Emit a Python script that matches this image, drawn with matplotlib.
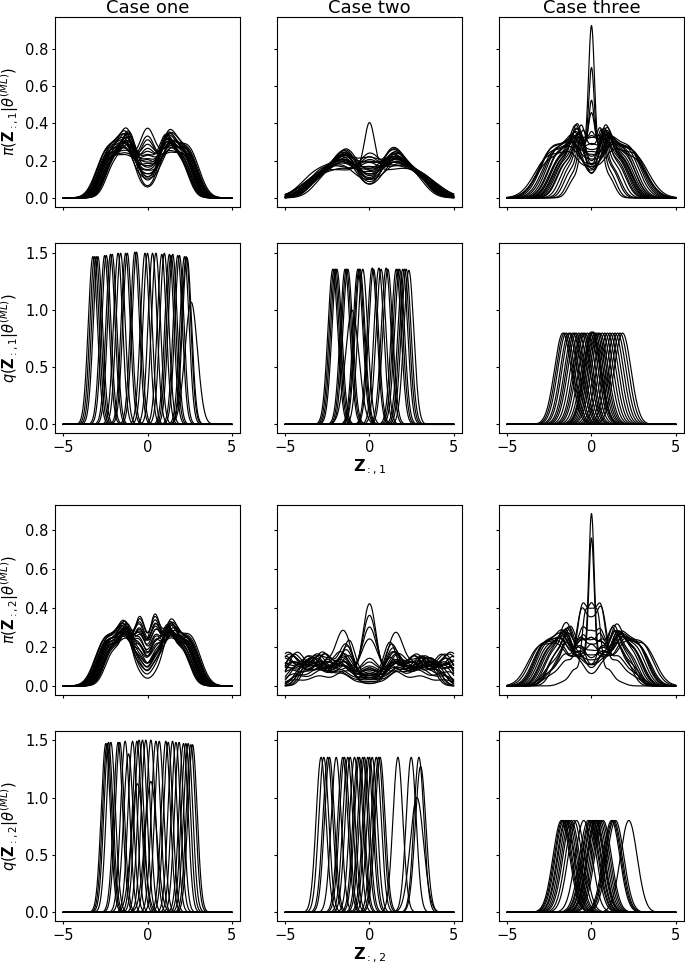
import numpy as np
import matplotlib.pyplot as plt

plt.rcParams['font.size'] = 10.5
plt.rcParams['xtick.major.size'] = 2.2
plt.rcParams['ytick.major.size'] = 2.2
plt.rcParams['xtick.major.pad'] = 2.5
plt.rcParams['ytick.major.pad'] = 2.5

x = np.linspace(-5, 5, 800)
cases = ['Case one', 'Case two', 'Case three']

# ---------------------------------------------------------------
# pi(Z | theta^(ML)) curves
# each panel: bump positions, bump widths, and one row per curve:
# [horizontal stretch, amplitude of each bump ...]
# ---------------------------------------------------------------
pi1_one_means = [-2.25, -1.2, 0.0, 1.2, 2.25]
pi1_one_sds = [0.55, 0.5, 0.5, 0.5, 0.55]
pi1_one_rows = [
    [1.00, 0.22, 0.30, 0.08, 0.30, 0.22],
    [0.95, 0.20, 0.28, 0.18, 0.27, 0.21],
    [1.05, 0.23, 0.25, 0.03, 0.26, 0.23],
    [0.90, 0.18, 0.32, 0.13, 0.30, 0.19],
    [1.00, 0.21, 0.20, 0.35, 0.22, 0.20],
    [1.08, 0.24, 0.27, 0.10, 0.25, 0.24],
    [0.92, 0.19, 0.24, 0.26, 0.25, 0.20],
    [0.98, 0.22, 0.33, 0.06, 0.31, 0.21],
    [1.03, 0.21, 0.22, 0.16, 0.23, 0.22],
    [0.88, 0.17, 0.29, 0.20, 0.30, 0.18],
    [1.10, 0.23, 0.26, 0.12, 0.24, 0.25],
    [0.96, 0.20, 0.18, 0.29, 0.20, 0.21],
    [1.02, 0.24, 0.31, 0.03, 0.32, 0.23],
    [0.94, 0.19, 0.26, 0.22, 0.27, 0.19],
    [1.06, 0.22, 0.23, 0.08, 0.22, 0.23],
    [0.90, 0.20, 0.30, 0.16, 0.28, 0.18],
    [1.00, 0.23, 0.21, 0.24, 0.24, 0.22],
    [0.97, 0.21, 0.28, 0.12, 0.29, 0.22],
    [1.04, 0.22, 0.24, 0.18, 0.21, 0.24],
    [0.93, 0.18, 0.27, 0.10, 0.26, 0.20],
    [1.07, 0.24, 0.29, 0.14, 0.30, 0.23],
    [0.99, 0.20, 0.19, 0.31, 0.19, 0.21],
    [0.91, 0.19, 0.31, 0.08, 0.29, 0.18],
    [1.01, 0.22, 0.25, 0.20, 0.26, 0.21],
]

pi1_two_means = [-2.8, -1.4, 0.0, 1.4, 2.8, 0.0]
pi1_two_sds = [0.9, 0.7, 0.65, 0.7, 0.9, 0.3]
pi1_two_rows = [
    [1.00, 0.12, 0.19, 0.05, 0.18, 0.12, 0.00],
    [0.95, 0.14, 0.15, 0.11, 0.16, 0.13, 0.00],
    [1.05, 0.10, 0.21, 0.03, 0.20, 0.11, 0.00],
    [0.90, 0.15, 0.12, 0.17, 0.13, 0.14, 0.00],
    [1.00, 0.11, 0.15, 0.10, 0.16, 0.12, 0.26],
    [1.10, 0.11, 0.18, 0.08, 0.17, 0.10, 0.00],
    [0.92, 0.13, 0.21, 0.04, 0.22, 0.14, 0.00],
    [0.98, 0.15, 0.10, 0.19, 0.11, 0.14, 0.00],
    [1.04, 0.09, 0.22, 0.06, 0.21, 0.10, 0.00],
    [0.88, 0.16, 0.14, 0.13, 0.13, 0.15, 0.00],
    [1.12, 0.10, 0.16, 0.12, 0.17, 0.11, 0.00],
    [0.96, 0.12, 0.19, 0.02, 0.20, 0.13, 0.00],
    [1.02, 0.13, 0.09, 0.21, 0.12, 0.12, 0.00],
    [0.94, 0.11, 0.22, 0.09, 0.19, 0.12, 0.00],
    [1.07, 0.12, 0.13, 0.06, 0.14, 0.11, 0.00],
    [0.90, 0.14, 0.17, 0.15, 0.16, 0.15, 0.00],
    [1.00, 0.10, 0.20, 0.10, 0.22, 0.11, 0.00],
    [0.97, 0.13, 0.16, 0.03, 0.15, 0.12, 0.00],
    [1.05, 0.11, 0.11, 0.16, 0.10, 0.13, 0.00],
    [0.93, 0.12, 0.20, 0.07, 0.21, 0.13, 0.00],
    [1.08, 0.14, 0.14, 0.10, 0.15, 0.12, 0.00],
    [0.99, 0.11, 0.18, 0.17, 0.17, 0.11, 0.00],
    [0.86, 0.13, 0.17, 0.06, 0.18, 0.14, 0.00],
    [1.14, 0.09, 0.19, 0.14, 0.18, 0.10, 0.00],
]

pi1_three_means = [-1.9, -0.9, 0.0, 0.9, 1.9, 0.0]
pi1_three_sds = [0.65, 0.42, 0.42, 0.42, 0.65, 0.2]
pi1_three_rows = [
    [1.00, 0.24, 0.26, 0.12, 0.25, 0.25, 0.00],
    [0.90, 0.20, 0.30, 0.10, 0.28, 0.20, 0.76],
    [0.85, 0.19, 0.27, 0.15, 0.26, 0.20, 0.49],
    [0.80, 0.18, 0.28, 0.18, 0.30, 0.18, 0.28],
    [0.95, 0.21, 0.25, 0.20, 0.26, 0.20, 0.20],
    [1.10, 0.25, 0.20, 0.10, 0.22, 0.26, 0.00],
    [1.25, 0.24, 0.18, 0.14, 0.19, 0.25, 0.00],
    [0.68, 0.16, 0.32, 0.22, 0.30, 0.15, 0.00],
    [1.05, 0.26, 0.23, 0.08, 0.24, 0.25, 0.00],
    [0.92, 0.20, 0.29, 0.16, 0.28, 0.21, 0.00],
    [1.18, 0.27, 0.19, 0.12, 0.20, 0.26, 0.00],
    [0.58, 0.12, 0.30, 0.26, 0.31, 0.13, 0.00],
    [0.98, 0.21, 0.27, 0.20, 0.26, 0.22, 0.00],
    [1.32, 0.22, 0.16, 0.13, 0.17, 0.23, 0.00],
    [0.88, 0.19, 0.33, 0.06, 0.32, 0.20, 0.00],
    [1.02, 0.24, 0.22, 0.24, 0.23, 0.23, 0.00],
    [0.74, 0.17, 0.29, 0.12, 0.28, 0.17, 0.00],
    [1.14, 0.25, 0.24, 0.18, 0.22, 0.27, 0.00],
    [0.54, 0.10, 0.26, 0.30, 0.27, 0.11, 0.00],
    [0.95, 0.22, 0.31, 0.09, 0.30, 0.21, 0.00],
    [1.22, 0.26, 0.21, 0.16, 0.20, 0.25, 0.00],
    [0.82, 0.18, 0.24, 0.28, 0.25, 0.19, 0.00],
    [1.28, 0.20, 0.22, 0.20, 0.21, 0.21, 0.00],
    [0.64, 0.14, 0.28, 0.14, 0.27, 0.15, 0.00],
]

pi2_one_means = [-2.3, -1.3, -0.45, 0.45, 1.3, 2.3]
pi2_one_sds = [0.55, 0.42, 0.35, 0.35, 0.42, 0.55]
pi2_one_rows = [
    [1.00, 0.22, 0.26, 0.10, 0.12, 0.27, 0.22],
    [0.95, 0.20, 0.22, 0.25, 0.28, 0.23, 0.21],
    [1.05, 0.23, 0.27, 0.04, 0.04, 0.26, 0.23],
    [0.90, 0.18, 0.24, 0.30, 0.31, 0.25, 0.19],
    [1.00, 0.21, 0.20, 0.18, 0.20, 0.21, 0.20],
    [1.08, 0.24, 0.25, 0.08, 0.10, 0.24, 0.24],
    [0.92, 0.19, 0.23, 0.22, 0.33, 0.22, 0.20],
    [0.98, 0.22, 0.28, 0.14, 0.12, 0.28, 0.21],
    [1.03, 0.21, 0.21, 0.28, 0.25, 0.22, 0.22],
    [0.88, 0.17, 0.26, 0.16, 0.18, 0.27, 0.18],
    [1.10, 0.23, 0.24, 0.12, 0.14, 0.22, 0.25],
    [0.96, 0.20, 0.19, 0.32, 0.30, 0.20, 0.21],
    [1.02, 0.24, 0.28, 0.06, 0.07, 0.29, 0.23],
    [0.94, 0.19, 0.23, 0.24, 0.22, 0.24, 0.19],
    [1.06, 0.22, 0.22, 0.15, 0.18, 0.21, 0.23],
    [0.90, 0.20, 0.27, 0.20, 0.19, 0.26, 0.18],
    [1.00, 0.23, 0.20, 0.26, 0.28, 0.21, 0.22],
    [0.97, 0.21, 0.25, 0.10, 0.11, 0.26, 0.22],
    [1.04, 0.22, 0.23, 0.20, 0.22, 0.20, 0.24],
    [0.93, 0.18, 0.26, 0.12, 0.14, 0.25, 0.20],
    [1.07, 0.24, 0.26, 0.18, 0.16, 0.27, 0.23],
    [0.99, 0.20, 0.21, 0.29, 0.27, 0.19, 0.21],
    [0.91, 0.19, 0.25, 0.08, 0.09, 0.24, 0.18],
    [1.01, 0.22, 0.24, 0.23, 0.25, 0.23, 0.21],
]

pi2_two_means = [-4.5, -3.0, -1.55, 0.0, 1.55, 3.0, 4.5, 0.0]
pi2_two_sds = [0.55, 0.55, 0.5, 0.55, 0.5, 0.55, 0.55, 0.4]
pi2_two_rows = [
    [1.00, 0.16, 0.12, 0.10, 0.05, 0.11, 0.12, 0.16, 0.00],
    [0.88, 0.10, 0.16, 0.18, 0.04, 0.17, 0.15, 0.11, 0.00],
    [1.12, 0.15, 0.10, 0.08, 0.06, 0.09, 0.10, 0.15, 0.00],
    [0.95, 0.05, 0.08, 0.10, 0.10, 0.09, 0.08, 0.06, 0.32],
    [1.00, 0.06, 0.09, 0.12, 0.10, 0.12, 0.09, 0.05, 0.26],
    [1.05, 0.08, 0.10, 0.14, 0.12, 0.13, 0.10, 0.07, 0.18],
    [1.00, 0.12, 0.15, 0.28, 0.03, 0.27, 0.14, 0.12, 0.00],
    [1.00, 0.03, 0.05, 0.07, 0.24, 0.07, 0.05, 0.03, 0.00],
    [0.82, 0.15, 0.13, 0.09, 0.02, 0.10, 0.12, 0.14, 0.00],
    [1.08, 0.17, 0.11, 0.13, 0.07, 0.12, 0.12, 0.17, 0.00],
    [0.93, 0.11, 0.17, 0.12, 0.03, 0.13, 0.16, 0.10, 0.00],
    [1.18, 0.12, 0.15, 0.11, 0.08, 0.10, 0.14, 0.13, 0.00],
    [0.85, 0.09, 0.12, 0.20, 0.06, 0.21, 0.12, 0.09, 0.00],
    [1.02, 0.15, 0.08, 0.15, 0.09, 0.16, 0.09, 0.14, 0.00],
    [0.90, 0.07, 0.16, 0.21, 0.05, 0.19, 0.15, 0.08, 0.00],
    [1.14, 0.14, 0.14, 0.07, 0.04, 0.08, 0.14, 0.13, 0.00],
    [0.97, 0.10, 0.11, 0.16, 0.12, 0.17, 0.11, 0.11, 0.00],
    [1.06, 0.16, 0.15, 0.06, 0.02, 0.07, 0.14, 0.16, 0.00],
    [0.78, 0.12, 0.10, 0.23, 0.08, 0.22, 0.10, 0.11, 0.00],
    [1.03, 0.12, 0.16, 0.10, 0.14, 0.11, 0.15, 0.11, 0.00],
    [0.96, 0.17, 0.12, 0.12, 0.01, 0.12, 0.11, 0.16, 0.00],
    [1.10, 0.09, 0.14, 0.17, 0.06, 0.16, 0.15, 0.09, 0.00],
    [0.80, 0.13, 0.14, 0.15, 0.09, 0.14, 0.13, 0.12, 0.00],
    [1.20, 0.11, 0.12, 0.12, 0.10, 0.13, 0.12, 0.12, 0.00],
]

pi2_three_means = [-2.5, -1.5, -0.6, 0.0, 0.6, 1.5, 2.5, 0.0]
pi2_three_sds = [0.55, 0.45, 0.3, 0.3, 0.3, 0.45, 0.55, 0.17]
pi2_three_rows = [
    [1.00, 0.18, 0.24, 0.12, 0.06, 0.12, 0.24, 0.18, 0.00],
    [0.95, 0.10, 0.20, 0.12, 0.12, 0.12, 0.20, 0.10, 0.73],
    [0.90, 0.08, 0.22, 0.10, 0.14, 0.10, 0.22, 0.09, 0.59],
    [0.95, 0.05, 0.12, 0.36, 0.30, 0.36, 0.12, 0.05, 0.00],
    [1.00, 0.06, 0.15, 0.34, 0.26, 0.35, 0.14, 0.06, 0.00],
    [1.10, 0.21, 0.22, 0.10, 0.08, 0.10, 0.22, 0.20, 0.00],
    [1.20, 0.20, 0.18, 0.12, 0.10, 0.12, 0.19, 0.21, 0.00],
    [0.85, 0.15, 0.27, 0.14, 0.07, 0.15, 0.28, 0.14, 0.00],
    [1.05, 0.19, 0.21, 0.20, 0.16, 0.19, 0.22, 0.19, 0.00],
    [0.92, 0.16, 0.26, 0.18, 0.20, 0.17, 0.25, 0.15, 0.00],
    [1.15, 0.20, 0.20, 0.16, 0.14, 0.15, 0.21, 0.19, 0.00],
    [0.80, 0.12, 0.28, 0.20, 0.18, 0.21, 0.27, 0.13, 0.00],
    [0.98, 0.17, 0.25, 0.08, 0.04, 0.08, 0.24, 0.18, 0.00],
    [1.25, 0.19, 0.17, 0.14, 0.12, 0.14, 0.18, 0.20, 0.00],
    [0.88, 0.14, 0.24, 0.24, 0.22, 0.23, 0.25, 0.15, 0.00],
    [1.02, 0.18, 0.23, 0.16, 0.10, 0.16, 0.23, 0.17, 0.00],
    [0.65, 0.02, 0.08, 0.32, 0.34, 0.32, 0.08, 0.02, 0.00],
    [1.08, 0.20, 0.24, 0.12, 0.18, 0.12, 0.23, 0.21, 0.00],
    [0.95, 0.16, 0.29, 0.10, 0.08, 0.11, 0.28, 0.17, 0.00],
    [1.12, 0.21, 0.19, 0.18, 0.20, 0.17, 0.20, 0.20, 0.00],
]

# ---------------------------------------------------------------
# q(Z | theta^(ML)) curves: (centre, peak height) of each bump
# ---------------------------------------------------------------
q1_one = [(-3.25, 1.47), (-3.15, 1.47), (-3.05, 1.47), (-2.95, 1.47),
          (-2.55, 1.48), (-2.45, 1.48), (-2.2, 1.49), (-2.1, 1.49),
          (-1.75, 1.5), (-1.6, 1.5), (-1.3, 1.5), (-1.2, 1.5),
          (-0.75, 1.51), (-0.65, 1.51), (-0.15, 1.5), (0.0, 1.5),
          (0.3, 1.5), (0.5, 1.5), (0.85, 1.49), (1.0, 1.5),
          (1.3, 1.49), (1.4, 1.48), (1.5, 1.49), (1.8, 1.48),
          (1.9, 1.48), (2.2, 1.47), (2.3, 1.47), (2.35, 1.46), (2.6, 1.07)]

q1_two = [(-2.18, 1.36), (-2.1, 1.36), (-2.02, 1.36), (-1.94, 1.36),
          (-1.45, 1.36), (-1.37, 1.36), (-1.29, 1.36), (-1.03, 1.0),
          (-0.69, 1.36), (-0.62, 1.36), (-0.56, 1.36), (-0.40, 1.36),
          (0.16, 1.37), (0.24, 1.36), (0.56, 1.37), (0.69, 1.36),
          (0.99, 1.37), (1.09, 1.36), (1.59, 1.36), (1.69, 1.36),
          (1.79, 1.36), (1.98, 1.36), (2.08, 1.36), (2.18, 1.36), (2.34, 1.35)]

q1_three = [(-1.7, 0.8), (-1.6, 0.8), (-1.5, 0.8), (-1.35, 0.8), (-1.25, 0.8),
            (-1.1, 0.8), (-1.0, 0.8), (-0.9, 0.8), (-0.75, 0.8), (-0.6, 0.8),
            (-0.5, 0.8), (-0.4, 0.8), (-0.25, 0.8), (-0.1, 0.8), (0.0, 0.81),
            (0.05, 0.8), (0.1, 0.81), (0.2, 0.8), (0.3, 0.8), (0.4, 0.8),
            (0.5, 0.8), (0.65, 0.8), (0.8, 0.8), (0.95, 0.8), (1.1, 0.8),
            (1.25, 0.8), (1.4, 0.8), (1.55, 0.8), (1.7, 0.8), (1.85, 0.8)]

q2_one = [(-2.48, 1.47), (-2.4, 1.47), (-2.32, 1.48), (-2.18, 1.48),
          (-1.75, 1.48), (-1.65, 1.48), (-1.33, 1.49), (-1.13, 1.38),
          (-0.89, 1.49), (-0.63, 1.49), (-0.6, 1.12), (-0.5, 1.5),
          (-0.3, 1.5), (-0.1, 1.5), (0.2, 1.14), (0.2, 1.5), (0.5, 1.49),
          (0.7, 1.49), (1.09, 1.49), (1.23, 1.48), (1.49, 1.49), (1.69, 1.48),
          (1.88, 1.48), (2.14, 1.47), (2.28, 1.47), (2.42, 1.47), (2.58, 1.46),
          (2.68, 1.46)]

q2_two = [(-2.88, 1.35), (-2.72, 1.35), (-2.48, 1.35), (-2.38, 1.35),
          (-1.98, 1.35), (-1.59, 1.35), (-1.49, 1.35), (-1.29, 1.35),
          (-1.15, 1.35), (-0.89, 1.35), (-0.69, 1.35), (-0.6, 1.35),
          (-0.4, 1.35), (-0.3, 1.35), (-0.1, 1.35), (0.0, 1.35),
          (0.16, 1.35), (0.4, 1.35), (0.54, 1.35), (0.63, 1.35),
          (1.69, 1.35), (2.48, 1.35), (2.82, 1.0), (2.94, 1.35), (3.04, 1.27)]

q2_three = [(-1.79, 0.8), (-1.72, 0.8), (-1.65, 0.8), (-1.55, 0.8),
            (-1.49, 0.8), (-1.39, 0.8), (-1.29, 0.8), (-1.2, 0.8),
            (-1.05, 0.8), (-0.89, 0.8), (-0.46, 0.8), (-0.2, 0.8),
            (-0.1, 0.8), (-0.04, 0.8), (0.05, 0.8), (0.1, 0.8),
            (0.2, 0.8), (0.25, 0.8), (0.3, 0.8), (0.4, 0.8),
            (0.5, 0.8), (0.6, 0.8), (0.69, 0.8), (1.19, 0.8),
            (1.26, 0.8), (1.33, 0.8), (1.43, 0.8), (2.22, 0.8)]


def mixture(means, sds, row):
    s = row[0]
    y = np.zeros_like(x)
    for m, sd, a in zip(means, sds, row[1:]):
        y += a * np.exp(-0.5 * ((x - m * s) / (sd * s)) ** 2)
    return y


def bump(c, h):
    sd = 1.0 / (h * np.sqrt(2 * np.pi))
    return h * np.exp(-0.5 * ((x - c) / sd) ** 2)


pi_panels = [
    [(pi1_one_means, pi1_one_sds, pi1_one_rows),
     (pi1_two_means, pi1_two_sds, pi1_two_rows),
     (pi1_three_means, pi1_three_sds, pi1_three_rows)],
    [(pi2_one_means, pi2_one_sds, pi2_one_rows),
     (pi2_two_means, pi2_two_sds, pi2_two_rows),
     (pi2_three_means, pi2_three_sds, pi2_three_rows)],
]
q_panels = [[q1_one, q1_two, q1_three], [q2_one, q2_two, q2_three]]

fig = plt.figure(figsize=(6.85, 9.64), dpi=100)
gs_top = fig.add_gridspec(2, 3, left=0.0803, right=0.9985, top=0.9824,
                          bottom=0.5508, wspace=0.2, hspace=0.195)
gs_bot = fig.add_gridspec(2, 3, left=0.0803, right=0.9985, top=0.4761,
                          bottom=0.0446, wspace=0.2, hspace=0.195)

first = None
for k, gs in enumerate([gs_top, gs_bot]):
    dim = k + 1
    for r in range(2):
        row_ax = None
        for c in range(3):
            ax = fig.add_subplot(gs[r, c], sharex=first, sharey=row_ax)
            if first is None:
                first = ax
            if row_ax is None:
                row_ax = ax
            if r == 0:
                means, sds, rows = pi_panels[k][c]
                for row in rows:
                    ax.plot(x, mixture(means, sds, row), color='black', lw=0.85)
            else:
                for cen, h in q_panels[k][c]:
                    ax.plot(x, bump(cen, h), color='black', lw=0.85)
            if k == 0 and r == 0:
                ax.set_title(cases[c], fontsize=13, pad=2.5)
            if r == 0:
                ax.tick_params(labelbottom=False)
            if c > 0:
                ax.tick_params(labelleft=False)
            if c == 0:
                if r == 0:
                    ax.set_ylabel(r'$\pi(\mathbf{Z}_{:,%d}|\theta^{(ML)})$' % dim,
                                  labelpad=3)
                else:
                    ax.set_ylabel(r'$q(\mathbf{Z}_{:,%d}|\theta^{(ML)})$' % dim,
                                  labelpad=3)
            if c == 1 and r == 1:
                ax.set_xlabel(r'$\mathbf{Z}_{:,%d}$' % dim, fontsize=11.5,
                              labelpad=2)
        if r == 0:
            row_ax.set_yticks([0.0, 0.2, 0.4, 0.6, 0.8])
        else:
            row_ax.set_yticks([0.0, 0.5, 1.0, 1.5])

first.set_xticks([-5, 0, 5])
fig.savefig('out.png', dpi=100)
